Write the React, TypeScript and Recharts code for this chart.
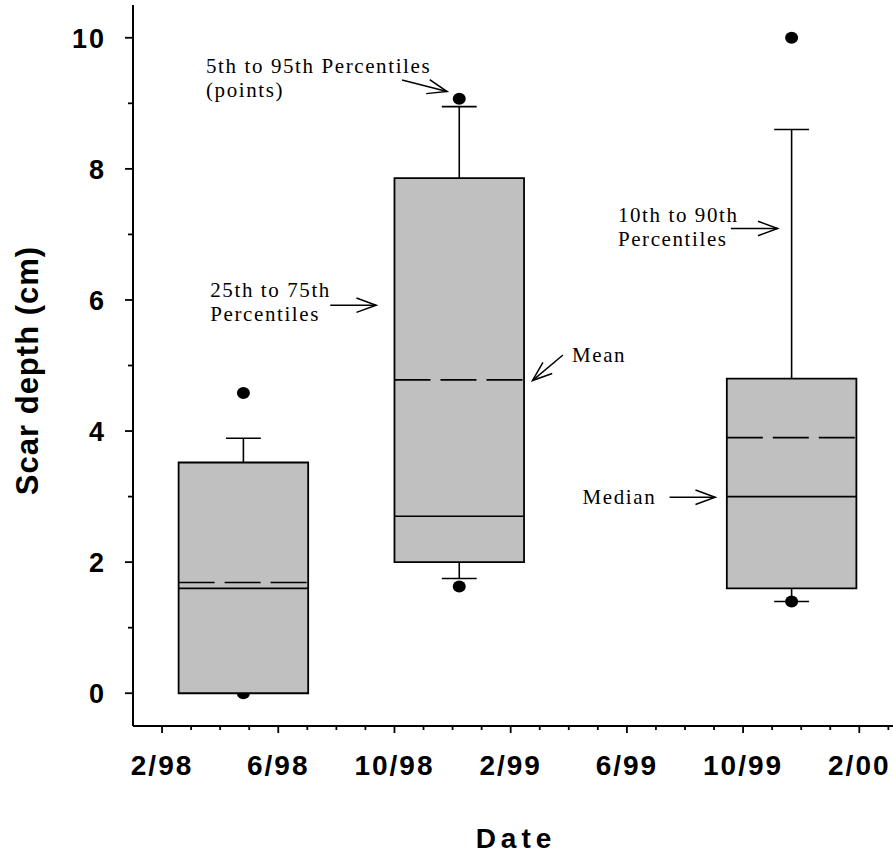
import React from 'react'
import { ComposedChart, XAxis, YAxis, Scatter, ReferenceArea, ReferenceLine } from 'recharts'

// sampling dates, in months counted from Feb 1998 (0 = 2/98)
const sampleMonths = [2.8, 10.23, 21.67]
// scar depth percentiles (cm) per sampling date
const pct5 = [0, 1.63, 1.4]
const pct10 = [0, 1.75, 1.4]
const pct25 = [0, 2.0, 1.6]
const medians = [1.6, 2.7, 3.0]
const means = [1.69, 4.78, 3.9]
const pct75 = [3.52, 7.86, 4.8]
const pct90 = [3.89, 8.95, 8.6]
const pct95 = [4.58, 9.07, 10.0]

const monthTicks = [0, 1, 2, 3, 4, 5, 6, 7, 8, 9, 10, 11, 12, 13, 14, 15, 16, 17, 18, 19, 20, 21, 22, 23, 24, 25]
const majorMonths = [0, 4, 8, 12, 16, 20, 24]
const majorLabels = ['2/98', '6/98', '10/98', '2/99', '6/99', '10/99', '2/00']
const depthTicks = [0, 1, 2, 3, 4, 5, 6, 7, 8, 9, 10]
const depthLabels = [0, 2, 4, 6, 8, 10]

// callouts: arrow tail/tip in data units, text offset from the tail in px
const callouts = [
  { lines: ['5th to 95th Percentiles', '(points)'], from: { x: 8.26, y: 9.355 }, to: { x: 9.81, y: 9.18 }, dx: -196, dy: -7 },
  { lines: ['25th to 75th', 'Percentiles'], from: { x: 5.79, y: 5.92 }, to: { x: 7.37, y: 5.92 }, dx: -120, dy: -8 },
  { lines: ['Mean'], from: { x: 13.8, y: 5.16 }, to: { x: 12.75, y: 4.77 }, dx: 9, dy: 7 },
  { lines: ['10th to 90th', 'Percentiles'], from: { x: 19.58, y: 7.09 }, to: { x: 21.19, y: 7.09 }, dx: -113, dy: -7 },
  { lines: ['Median'], from: { x: 17.47, y: 2.99 }, to: { x: 19.04, y: 2.99 }, dx: -87, dy: 7 },
]

const xDomain = [-1, 25.16]
const boxHalf = 2.23
const capHalf = 0.6

const points = sampleMonths.flatMap((m, i) => [
  { x: m, y: pct5[i] },
  { x: m, y: pct95[i] },
])

const sansBold = { fontFamily: '"Liberation Sans", Arial, sans-serif', fontWeight: 700 }
const serif = { fontFamily: '"Liberation Serif", "Times New Roman", serif', fontSize: 21, letterSpacing: 1.6 }

const XTick = (props: any) => {
  const { x, y, payload } = props
  const i = majorMonths.indexOf(payload.value)
  return (
    <g>
      <line x1={x} y1={y} x2={x} y2={y + (i >= 0 ? 7 : 4)} stroke="#000" strokeWidth={1.8} />
      {i >= 0 && (
        <text x={x} y={y + 49} textAnchor="middle" fill="#000" style={{ ...sansBold, fontSize: 28, letterSpacing: 2 }}>
          {majorLabels[i]}
        </text>
      )}
    </g>
  )
}

const YTick = (props: any) => {
  const { x, y, payload } = props
  const major = depthLabels.includes(payload.value)
  return (
    <g>
      <line x1={x} y1={y} x2={x - (major ? 8 : 5)} y2={y} stroke="#000" strokeWidth={1.8} />
      {major && (
        <text x={x - 27} y={y + 10} textAnchor="end" fill="#000" style={{ ...sansBold, fontSize: 27, letterSpacing: 2 }}>
          {payload.value}
        </text>
      )}
    </g>
  )
}

const YLabel = (props: any) => {
  const { x, y, height } = props.viewBox
  const cx = x + 38
  const cy = y + height / 2 + 5
  return (
    <text x={cx} y={cy} transform={`rotate(-90 ${cx} ${cy})`} textAnchor="middle" fill="#000" style={{ ...sansBold, fontSize: 31, letterSpacing: 1 }}>
      Scar depth (cm)
    </text>
  )
}

const XLabel = (props: any) => {
  const { x, y, width } = props.viewBox
  return (
    <text x={x + width / 2 + 3} y={y + 122} textAnchor="middle" fill="#000" style={{ ...sansBold, fontSize: 28, letterSpacing: 5 }}>
      Date
    </text>
  )
}

const calloutShape = (c: (typeof callouts)[number]) => (props: any) => {
  const { x1, y1, x2, y2 } = props
  const ang = Math.atan2(y2 - y1, x2 - x1)
  const len = 21
  const spread = 0.35
  const ax = x2 - len * Math.cos(ang - spread)
  const ay = y2 - len * Math.sin(ang - spread)
  const bx = x2 - len * Math.cos(ang + spread)
  const by = y2 - len * Math.sin(ang + spread)
  return (
    <g>
      <line x1={x1} y1={y1} x2={x2} y2={y2} stroke="#000" strokeWidth={1.5} />
      <polyline points={`${ax},${ay} ${x2},${y2} ${bx},${by}`} fill="none" stroke="#000" strokeWidth={1.5} />
      <text fill="#000" style={serif}>
        {c.lines.map((l, i) => (
          <tspan key={i} x={x1 + c.dx} y={y1 + c.dy + i * 24}>
            {l}
          </tspan>
        ))}
      </text>
    </g>
  )
}

const Dot = (props: any) => <ellipse cx={props.cx} cy={props.cy} rx={6.5} ry={6} fill="#000" />

export default function App() {
  const axisLine = { stroke: '#000', strokeWidth: 2 }
  return (
    <div style={{ position: 'absolute', left: 0, top: 0, background: '#fff' }}>
      <ComposedChart width={893} height={859} margin={{ top: 5, right: 0, bottom: 0, left: 0 }}>
        <XAxis xAxisId="top" orientation="top" type="number" domain={xDomain} allowDataOverflow height={0} tick={false} tickLine={false} axisLine={axisLine} />
        <XAxis
          type="number"
          dataKey="x"
          domain={xDomain}
          allowDataOverflow
          ticks={monthTicks}
          interval={0}
          tickLine={false}
          tickSize={0}
          tickMargin={0}
          tick={(p: any) => <XTick {...p} />}
          height={133}
          axisLine={axisLine}
          label={(p: any) => <XLabel {...p} />}
        />
        <YAxis
          type="number"
          dataKey="y"
          domain={[-0.5, 10.5]}
          allowDataOverflow
          ticks={depthTicks}
          interval={0}
          tickLine={false}
          tickSize={0}
          tickMargin={0}
          tick={(p: any) => <YTick {...p} />}
          width={133}
          axisLine={axisLine}
          label={(p: any) => <YLabel {...p} />}
        />

        {/* whiskers and caps */}
        {sampleMonths.map((m, i) => (
          <ReferenceLine key={`wu${i}`} segment={[{ x: m, y: pct75[i] }, { x: m, y: pct90[i] }]} stroke="#000" strokeWidth={1.6} zIndex={100} />
        ))}
        {sampleMonths.map((m, i) => (
          <ReferenceLine key={`wl${i}`} segment={[{ x: m, y: pct10[i] }, { x: m, y: pct25[i] }]} stroke="#000" strokeWidth={1.6} zIndex={100} />
        ))}
        {sampleMonths.map((m, i) => (
          <ReferenceLine key={`cu${i}`} segment={[{ x: m - capHalf, y: pct90[i] }, { x: m + capHalf, y: pct90[i] }]} stroke="#000" strokeWidth={1.6} zIndex={100} />
        ))}
        {sampleMonths.map((m, i) => (
          <ReferenceLine key={`cl${i}`} segment={[{ x: m - capHalf, y: pct10[i] }, { x: m + capHalf, y: pct10[i] }]} stroke="#000" strokeWidth={1.6} zIndex={100} />
        ))}

        <Scatter data={points} shape={Dot} isAnimationActive={false} zIndex={200} />

        {/* interquartile boxes */}
        {sampleMonths.map((m, i) => (
          <ReferenceArea
            key={`box${i}`}
            x1={m - boxHalf}
            x2={m + boxHalf}
            y1={pct25[i]}
            y2={pct75[i]}
            fill="#c0c0c0"
            fillOpacity={1}
            stroke="#000"
            strokeWidth={1.8}
            zIndex={300}
          />
        ))}
        {sampleMonths.map((m, i) => (
          <ReferenceLine key={`med${i}`} segment={[{ x: m - boxHalf, y: medians[i] }, { x: m + boxHalf, y: medians[i] }]} stroke="#000" strokeWidth={1.6} zIndex={400} />
        ))}
        {sampleMonths.map((m, i) => (
          <ReferenceLine
            key={`mean${i}`}
            segment={[{ x: m - boxHalf, y: means[i] }, { x: m + boxHalf, y: means[i] }]}
            stroke="#000"
            strokeWidth={1.6}
            strokeDasharray="36 10"
            zIndex={400}
          />
        ))}

        {callouts.map((c, i) => (
          <ReferenceLine key={`call${i}`} segment={[c.from, c.to]} shape={calloutShape(c)} zIndex={500} />
        ))}
      </ComposedChart>
    </div>
  )
}
